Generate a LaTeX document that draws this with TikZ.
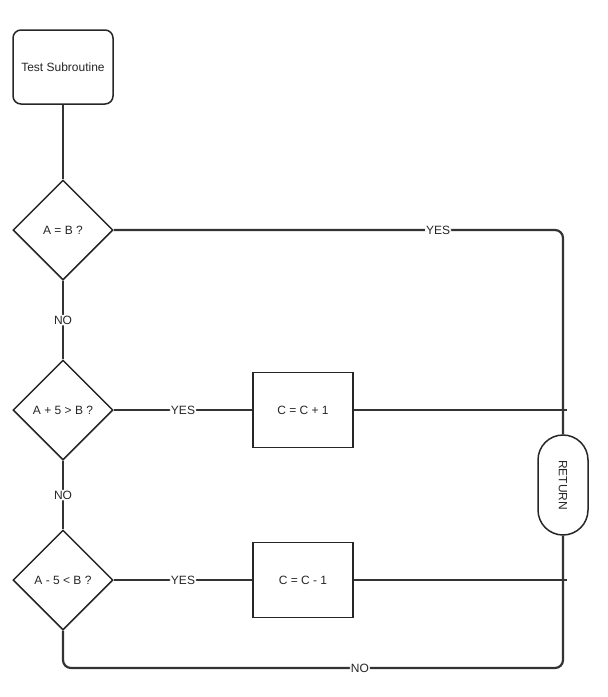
\documentclass[tikz,border=0pt]{standalone}
\usepackage{fontspec}
\setmainfont{Liberation Sans}
\usepackage{tikz}
\usetikzlibrary{shapes.geometric}

\begin{document}
\begin{tikzpicture}[x=1pt, y=-1pt, font=\fontsize{12}{14}\selectfont,
  decision/.style={diamond, draw=black!85, line width=1.5pt, inner sep=0pt,
    minimum width=100pt, minimum height=100pt, text=black!85},
  process/.style={rectangle, draw=black!85, line width=1.5pt,
    minimum width=100pt, minimum height=75pt, text=black!85},
  terminal/.style={rectangle, draw=black!85, line width=1.5pt, rounded corners=25pt,
    minimum width=50pt, minimum height=100pt, text=black!85},
  flow/.style={draw=black!80, line width=2.2pt, rounded corners=8pt},
  lbl/.style={fill=white, inner sep=1pt, text=black!85}]
  \useasboundingbox (0,0) rectangle (608,697);

  % start block
  \node[process, rounded corners=8pt, minimum height=74pt] (start) at (63,67) {Test Subroutine};

  % tests down the left side
  \node[decision] (eq) at (63,230) {A = B ?};
  \node[decision] (gt) at (63,410) {A + 5 > B ?};
  \node[decision] (lt) at (63,580) {A - 5 < B ?};

  % updates of C
  \node[process] (inc) at (303,410) {C = C + 1};
  \node[process] (dec) at (303,580) {C = C - 1};

  \node[terminal] (ret) at (563,485) {\rotatebox{-90}{RETURN}};
  \coordinate (incend) at (567,410);
  \coordinate (decend) at (567,580);

  \draw[flow] (start.south) -- (eq.north);
  \draw[flow] (eq.south) -- node[lbl]{NO} (gt.north);
  \draw[flow] (gt.south) -- node[lbl]{NO} (lt.north);
  \draw[flow] (eq.east) -- node[lbl, pos=0.722]{YES} (eq.east -| ret.north) -- (ret.north);
  \draw[flow] (gt.east) -- node[lbl]{YES} (inc.west);
  \draw[flow] (lt.east) -- node[lbl]{YES} (dec.west);
  \draw[flow] (inc.east) -- (incend);
  \draw[flow] (dec.east) -- (decend);
  \draw[flow] (lt.south) -- (63,668) -- node[lbl, pos=0.594]{NO} (ret.south |- 0,668) -- (ret.south);
\end{tikzpicture}
\end{document}
